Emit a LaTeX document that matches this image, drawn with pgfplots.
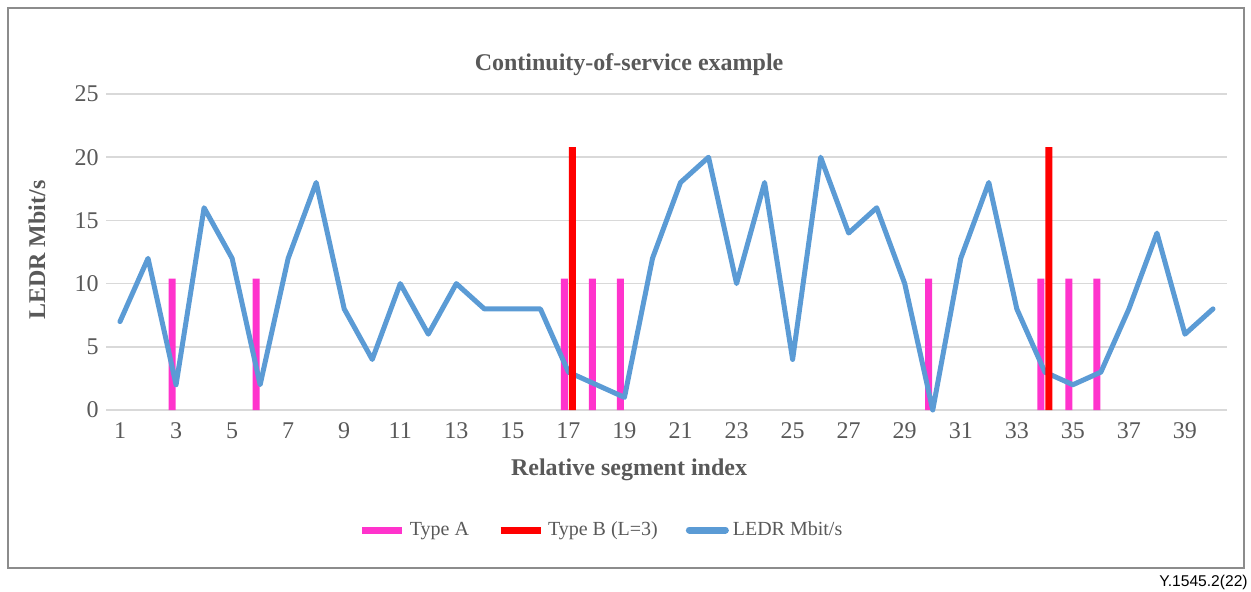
\documentclass[border=0pt]{standalone}
\usepackage{fontspec}
\setmainfont{Liberation Serif}
\newfontfamily\arial{Liberation Sans}
\usepackage{pgfplots}
\pgfplotsset{compat=1.18}
\definecolor{txt}{HTML}{595959}
\definecolor{pinkA}{HTML}{FF33CC}
\definecolor{redB}{HTML}{FF0000}
\definecolor{blueL}{HTML}{5B9BD5}
\definecolor{gridc}{HTML}{D9D9D9}
\definecolor{framec}{HTML}{8C8C8C}
\begin{document}
\begin{tikzpicture}
\useasboundingbox (-53pt,-90.5pt) rectangle (572.5pt,205pt);
\draw[framec, line width=0.8pt] (-49pt,-79pt) rectangle (569pt,201pt);
\node[anchor=base east, font=\arial\fontsize{7.8}{9}\selectfont, text=black, inner sep=0pt] at (571pt,-88pt) {Y.1545.2(22)};
\begin{axis}[
  at={(0,0)}, anchor=south west,
  scale only axis, width=560.5pt, height=158pt,
  xmin=0.5, xmax=40.5, ymin=0, ymax=25,
  xtick={1,3,...,39}, ytick={0,5,...,25},
  ymajorgrids, major grid style={gridc, line width=0.8pt},
  axis line style={draw=none},
  major tick length=0pt,
  clip=false,
  tick label style={font=\fontsize{12}{14}\selectfont, text=txt},
  /pgf/number format/assume math mode=true,
  xticklabel style={anchor=north, inner sep=0pt, yshift=-6pt},
  yticklabel style={anchor=east, inner sep=0pt, xshift=-3.5pt},
  title={Continuity-of-service example},
  title style={at={(axis description cs:0.4666,1.101)}, anchor=center, yshift=-7.5pt, font=\bfseries\fontsize{12}{14}\selectfont, text=txt},
  xlabel={Relative segment index},
  xlabel style={at={(axis description cs:0.4666,-0.19)}, anchor=center, yshift=0pt, font=\bfseries\fontsize{12}{14}\selectfont, text=txt},
  ylabel={LEDR Mbit/s},
  ylabel style={at={(axis description cs:-0.0616,0.506)}, anchor=center, rotate=0, font=\bfseries\fontsize{12}{14}\selectfont, text=txt},
  legend columns=3,
  legend style={at={(axis description cs:0.443,-0.38)}, anchor=center, draw=none, fill=none,
    font=\fontsize{10}{12}\selectfont, text=txt,
    /tikz/every even column/.append style={column sep=12pt}},
]
\addplot[ybar, bar width=3.5pt, bar shift=-2pt, fill=pinkA, draw=none,
  legend image code/.code={\draw[pinkA, line width=3.5pt] (0pt,0pt) -- (20pt,0pt);}]
  coordinates {(3,10.4) (6,10.4) (17,10.4) (18,10.4) (19,10.4) (30,10.4) (34,10.4) (35,10.4) (36,10.4)};
\addlegendentry{Type A}
\addlegendimage{legend image code/.code={\draw[redB, line width=3.5pt] (0pt,0pt) -- (20pt,0pt);}}
\addlegendentry{Type B (L=3)}
\addplot[blueL, line width=2.5pt, line join=round, line cap=round, mark=none,
  legend image code/.code={\draw[blueL, line width=3.5pt, line cap=round] (1pt,0pt) -- (19pt,0pt);}]
  coordinates {
  (1,7) (2,12) (3,2) (4,16) (5,12) (6,2) (7,12) (8,18) (9,8) (10,4)
  (11,10) (12,6) (13,10) (14,8) (15,8) (16,8) (17,3) (18,2) (19,1) (20,12)
  (21,18) (22,20) (23,10) (24,18) (25,4) (26,20) (27,14) (28,16) (29,10) (30,0)
  (31,12) (32,18) (33,8) (34,3) (35,2) (36,3) (37,8) (38,14) (39,6) (40,8)};
\addlegendentry{LEDR Mbit/s}
\addplot[ybar, bar width=3.5pt, bar shift=2pt, fill=redB, draw=none, forget plot]
  coordinates {(17,20.8) (34,20.8)};
\end{axis}
\end{tikzpicture}
\end{document}
